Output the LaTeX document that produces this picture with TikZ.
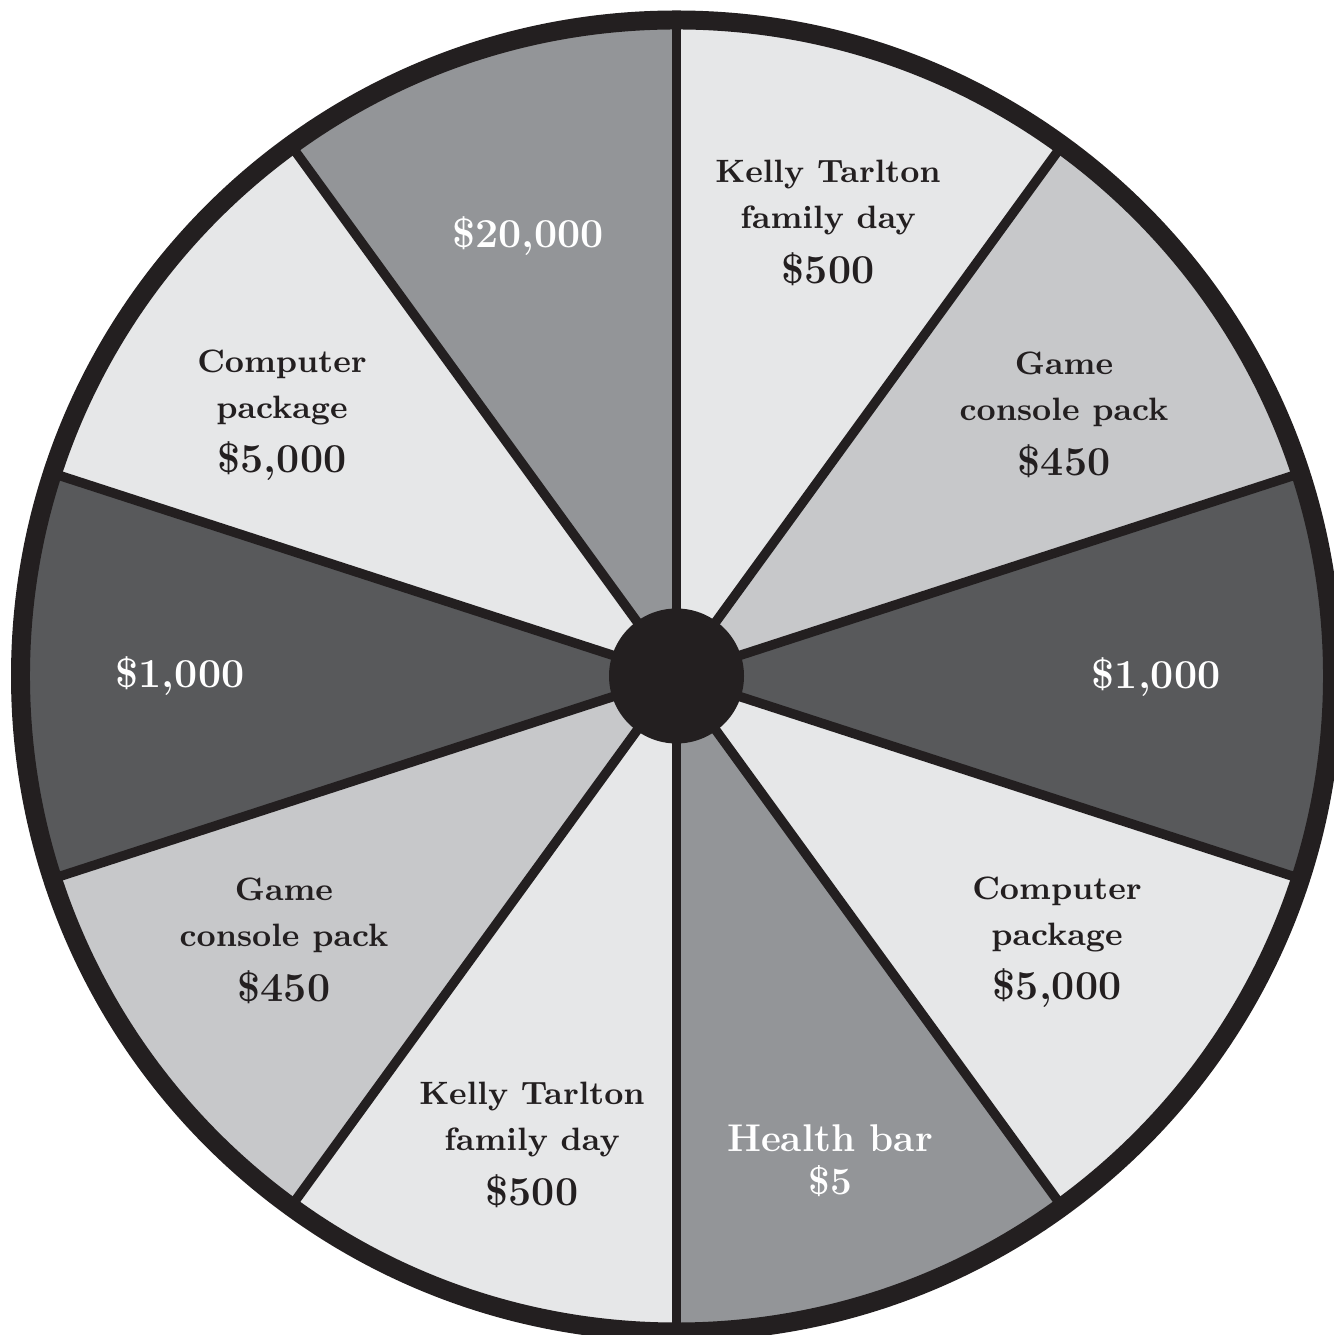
\documentclass[tikz,border=0pt]{standalone}
\usepackage{tikz}

\definecolor{wheelblack}{HTML}{231F20}
\definecolor{dark}{HTML}{58595B}
\definecolor{mid}{HTML}{939598}
\definecolor{lightmid}{HTML}{C7C8CA}
\definecolor{light}{HTML}{E6E7E8}
\newcommand{\prizeamt}{\fontsize{11.7}{14}\selectfont}

\begin{document}
\begin{tikzpicture}[
  prize/.style={align=center,text=wheelblack,font=\bfseries\fontsize{9.2}{13.1}\selectfont},
  prizew/.style={prize,text=white},
  amount/.style={font=\bfseries\prizeamt}]
\useasboundingbox (-6.765,-6.59) rectangle (6.565,6.76);
\coordinate (hub) at (0,0);
% sectors, clockwise from the top
\foreach \a/\c in {54/light,18/lightmid,-18/dark,-54/light,-90/mid,-126/light,-162/lightmid,162/dark,126/light,90/mid}
  \fill[\c] (hub) -- (\a:6.56) arc[start angle=\a,delta angle=36,radius=6.56] -- cycle;
\foreach \a in {18,54,...,342}
  \draw[wheelblack,line width=2.7pt] (hub) -- (\a:6.56);
\fill[wheelblack] (hub) circle (0.675);
\draw[wheelblack,line width=5.4pt] (hub) circle (6.56);

% prizes
\node[prize] (kellyA) at (1.515,4.53) {Kelly Tarlton\\family day\\[2.4pt]{\prizeamt\$500}};
\node[prize] (gameA) at (3.875,2.61) {Game\\console pack\\[2.4pt]{\prizeamt\$450}};
\node[prizew,amount] (thousandA) at (4.795,-0.01) {\$1,000};
\node[prize] (computerA) at (3.805,-2.66) {Computer\\package\\[2.4pt]{\prizeamt\$5,000}};
\node[prizew,font=\bfseries\fontsize{11}{12.3}\selectfont] (health) at (1.535,-4.85) {Health bar\\\$5};
\node[prize] (kellyB) at (-1.445,-4.69) {Kelly Tarlton\\family day\\[2.4pt]{\prizeamt\$500}};
\node[prize] (gameB) at (-3.925,-2.65) {Game\\console pack\\[2.4pt]{\prizeamt\$450}};
\node[prizew,amount] (thousandB) at (-4.965,0) {\$1,000};
\node[prize] (computerB) at (-3.945,2.61) {Computer\\package\\[2.4pt]{\prizeamt\$5,000}};
\node[prizew,amount] (twenty) at (-1.485,4.4) {\$20,000};
\end{tikzpicture}
\end{document}
